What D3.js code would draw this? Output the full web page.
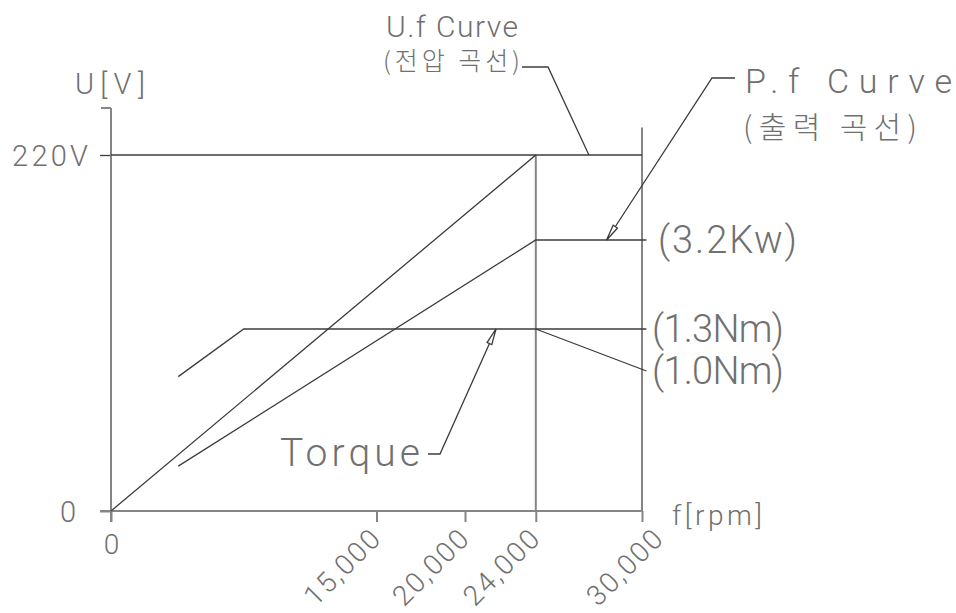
<!DOCTYPE html>
<html>
<head>
<meta charset="utf-8">
<script src="https://cdn.jsdelivr.net/npm/d3@7/dist/d3.min.js"></script>
<style>
  body { margin: 0; background: #fff; }
  text { font-family: Roboto, "Noto Sans CJK KR", sans-serif; font-weight: 300; fill: #707070; }
  .ko { font-family: "Noto Sans CJK KR", sans-serif; font-weight: 300; }
</style>
</head>
<body>
<svg id="chart" width="956" height="613"></svg>
<script>
// speed axis
const rpmTicks = [0, 15000, 20000, 24000, 30000];
const rpmLabels = ["0", "15,000", "20,000", "24,000", "30,000"];
const voltTicks = [0, 220];
const voltLabels = ["0", "220V"];

// U.f curve (voltage)
const ufRpm = [0, 24000, 30000];
const ufVolt = [0, 220, 220];

// P.f curve (output kW)
const pfRpm = [3800, 24000, 30250];
const pfKw = [0.53, 3.2, 3.2];

// torque (Nm)
const tqRpm = [3800, 7500, 30250];
const tqNm = [0.96, 1.3, 1.3];
const tqDropRpm = [24000, 30250];
const tqDropNm = [1.3, 1.0];

const endLabels = ["(3.2Kw)", "(1.3Nm)", "(1.0Nm)"];
const endValues = [3.2, 1.3, 1.0];

const svg = d3.select("#chart");

const x = d3.scaleLinear().domain([0, 30000]).range([111, 642]);
const yV = d3.scaleLinear().domain([0, 220]).range([511, 155]);
const yP = d3.scaleLinear().domain([0, 3.2]).range([511, 240]);
const yT = d3.scaleLinear().domain([0, 1.3]).range([511, 329]);

const axisCol = "#858585";
const lineCol = "#3c3c3c";

// text helper: fixed width like the CAD font
function label(g, str, x0, y0, w, size, cls) {
  return g.append("text")
    .attr("class", cls || null)
    .attr("x", x0).attr("y", y0)
    .attr("font-size", size)
    .attr("textLength", w)
    .attr("lengthAdjust", "spacing")
    .text(str);
}

// ---- axes ----
const xAxis = d3.axisBottom(x)
  .tickValues(rpmTicks)
  .tickSize(11)
  .tickFormat((d, i) => rpmLabels[i]);

const gx = svg.append("g")
  .attr("transform", `translate(0,${yV(0)})`)
  .call(xAxis);
gx.select(".domain").remove();
gx.selectAll(".tick line").attr("stroke", axisCol).attr("stroke-width", 2);
gx.selectAll(".tick text")
  .attr("font-size", 28)
  .attr("fill", "#707070")
  .attr("font-family", null)
  .each(function (d, i) {
    const t = d3.select(this);
    if (d === 0) {
      t.attr("y", 43).attr("dy", 0).attr("x", 0).attr("text-anchor", "middle");
    } else {
      const shift = d === 30000 ? 22 : 5;
      t.attr("y", 0).attr("dy", 0).attr("x", 0)
        .attr("text-anchor", "end")
        .attr("textLength", 94)
        .attr("transform", `translate(${shift},30) rotate(-45)`);
    }
  });

const yAxis = d3.axisLeft(yV)
  .tickValues(voltTicks)
  .tickSize(11)
  .tickFormat((d, i) => voltLabels[i]);

const gy = svg.append("g")
  .attr("transform", `translate(${x(0)},0)`)
  .call(yAxis);
gy.select(".domain").remove();
gy.selectAll(".tick line")
  .attr("stroke", d => d === 0 ? axisCol : lineCol)
  .attr("stroke-width", d => d === 0 ? 2 : 1.3);
gy.selectAll(".tick text")
  .attr("font-size", 29)
  .attr("fill", "#707070")
  .attr("font-family", null)
  .attr("dy", "0.36em")
  .attr("x", d => d === 0 ? -35 : -23)
  .attr("textLength", d => d === 0 ? 13 : 76);

// axis lines
svg.append("line")
  .attr("x1", x(0)).attr("x2", x(0))
  .attr("y1", yV(0) + 11).attr("y2", yV(220) - 47)
  .attr("stroke", axisCol).attr("stroke-width", 2);
svg.append("line")
  .attr("x1", x(0) - 10).attr("x2", x(0))
  .attr("y1", yV(220) - 47).attr("y2", yV(220) - 47)
  .attr("stroke", axisCol).attr("stroke-width", 2);
svg.append("line")
  .attr("x1", x(0) - 11).attr("x2", x(30000))
  .attr("y1", yV(0)).attr("y2", yV(0))
  .attr("stroke", axisCol).attr("stroke-width", 2);

// rated-speed and max-speed verticals
svg.append("line")
  .attr("x1", x(24000)).attr("x2", x(24000))
  .attr("y1", yV(220)).attr("y2", yV(0))
  .attr("stroke", axisCol).attr("stroke-width", 2);
svg.append("line")
  .attr("x1", x(30000)).attr("x2", x(30000))
  .attr("y1", yV(237)).attr("y2", yV(0))
  .attr("stroke", axisCol).attr("stroke-width", 2);

// 220V level
svg.append("line")
  .attr("x1", x(0)).attr("x2", x(24000))
  .attr("y1", yV(220)).attr("y2", yV(220))
  .attr("stroke", lineCol).attr("stroke-width", 1.3);

// ---- curves ----
const curves = svg.append("g")
  .attr("fill", "none")
  .attr("stroke", lineCol)
  .attr("stroke-width", 1.3);

const lineOf = (xs, ys, yScale) => d3.line()(xs.map((r, i) => [x(r), yScale(ys[i])]));

curves.append("path").attr("d", lineOf(ufRpm, ufVolt, yV));
curves.append("path").attr("d", lineOf(pfRpm, pfKw, yP));
curves.append("path").attr("d", lineOf(tqRpm, tqNm, yT));
curves.append("path").attr("d", lineOf(tqDropRpm, tqDropNm, yT));

// ---- leaders ----
function leader(pts, arrow) {
  curves.append("path").attr("d", d3.line()(pts));
  if (!arrow) return;
  const [tx, ty] = pts[pts.length - 1];
  const [px, py] = pts[pts.length - 2];
  const len = Math.hypot(tx - px, ty - py);
  const ux = (tx - px) / len, uy = (ty - py) / len;
  const bx = tx - ux * 16, by = ty - uy * 16;
  const nx = -uy * 2.6, ny = ux * 2.6;
  curves.append("path")
    .attr("d", d3.line()([[tx, ty], [bx + nx, by + ny], [bx - nx, by - ny]]) + "Z")
    .attr("fill", "#fff");
}

leader([[522, 67], [548, 67], [x(27000), yV(220)]], false);
leader([[735, 78], [712, 78], [x(28000), yP(3.2)]], true);
leader([[428, 454], [440, 454], [x(21750), yT(1.3)]], true);

// ---- texts ----
const lab = svg.append("g");
label(lab, "U[V]", 75, 94, 70, 29);
label(lab, "U.f Curve", 386, 37, 132, 30);
label(lab, "(전압 곡선)", 383, 70, 137, 25, "ko");
label(lab, "P.f Curve", 745, 93, 207, 34);
label(lab, "(출력 곡선)", 743, 138, 174, 30, "ko");
label(lab, "Torque", 280, 466, 140, 39);
label(lab, "f[rpm]", 672, 525, 90, 28);

const endY = [yP(3.2), yT(1.3), yT(1.0)];
endLabels.forEach((s, i) => {
  label(lab, s, i === 0 ? 658 : 652, endY[i] + 13, i === 0 ? 139 : 132, 38);
});
</script>
</body>
</html>
